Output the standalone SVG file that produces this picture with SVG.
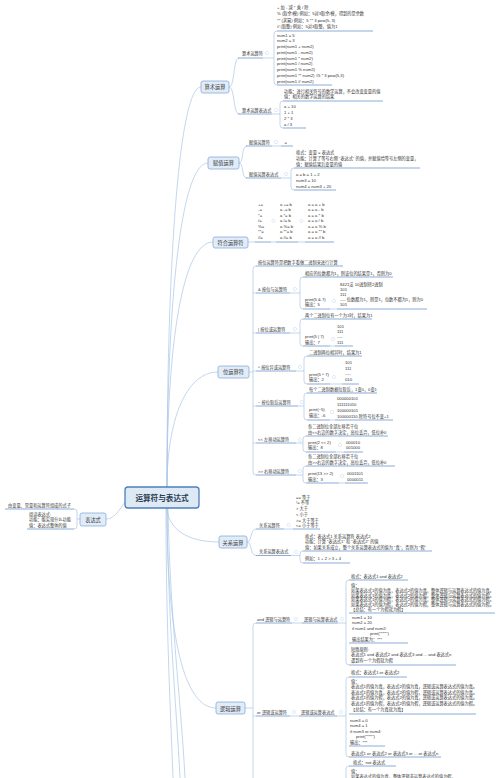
<svg xmlns="http://www.w3.org/2000/svg" width="500" height="778" viewBox="0 0 500 778">
<style>
text{font-family:"Liberation Sans","Noto Sans CJK SC",sans-serif;fill:#333}
.t{font-size:4.2px}
.m{font-size:5.2px;text-anchor:middle}
.r{font-size:7.6px;text-anchor:middle;font-weight:bold;fill:#2b3a4f}
.u{stroke:#6c98cf;stroke-width:0.8;fill:none}
.c{stroke:#a9c6e6;stroke-width:0.7;fill:none}
.d{fill:#fff;stroke:#c5d6ea;stroke-width:0.5}
.mb{fill:#e1ecf8;stroke:#88acd6;stroke-width:0.8}
.rb{fill:#dde9f5;stroke:#4f7fba;stroke-width:1.3}
</style>
<rect width="500" height="778" fill="#fff"/>
<g id="connectors">
<path class="c" d="M167 487C167 250 180 87 201 87"/>
<path class="c" d="M167 487C167 300 181 163 208 163"/>
<path class="c" d="M167 487C167 340 183 242 213 242"/>
<path class="c" d="M167 487C167 420 186 372 218 372"/>
<path class="c" d="M167 508C168 528 186 542 219 542"/>
<path class="c" d="M167 508C167 640 185 708 216 708"/>
<path class="c" d="M166 508C166 620 170 700 173 778"/>
<path class="c" d="M167 508C168 620 176 700 180 778"/>
<path class="c" d="M168 508C170 620 181 700 185 778"/>
<path class="c" d="M125 502C118 512 114 519 106 519"/>
<path class="c" d="M80 519H77M74 509Q77 509 77 512V526Q77 529 74 529"/>
<path class="c" d="M229 87C235 87 233 58 239 58M229 87C235 87 233 114 239 114"/>
<path class="c" d="M263 58H274M277 31Q274 31 274 34V82Q274 85 277 85"/>
<path class="c" d="M272 114H280M283 101Q280 101 280 104V125Q280 128 283 128"/>
<path class="c" d="M239 163C244 163 241 146 247 146M239 163C244 163 241 178 247 178"/>
<path class="c" d="M272 146H281M281 178H291M294 168Q291 168 291 171V187Q291 190 294 190"/>
<path class="c" d="M248 242H255M271 242H276M298 242H305"/>
<path class="c" d="M249 372H253M256 266Q253 266 253 269V472Q253 475 256 475M253 293H256M253 333H256M253 371H256M253 406H256M253 443H256"/>
<path class="c" d="M290 293H300M303 277Q300 277 300 280V306Q300 309 303 309M330 309H337"/>
<path class="c" d="M290 333H300M303 319Q300 319 300 322V343Q300 346 303 346M330 346H335"/>
<path class="c" d="M296 371H304M307 356Q304 356 304 359V381Q304 384 307 384M330 384H342"/>
<path class="c" d="M298 406H304M307 393Q304 393 304 396V417Q304 420 307 420M330 420H335"/>
<path class="c" d="M296 443H303M306 436Q303 436 303 439V449Q303 452 306 452M336 452H344"/>
<path class="c" d="M296 475H303M306 466Q303 466 303 469V480Q303 483 306 483M339 483H345"/>
<path class="c" d="M247 542C252 542 250 529 256 529M247 542C252 542 250 555.5 256 555.5"/>
<path class="c" d="M284 529H293M291 555.5H300M303 551Q300 551 300 554V560Q300 563 303 563"/>
<path class="c" d="M245 708H253M256 623Q253 623 253 626V778M253 716H256"/>
<path class="c" d="M292 623H302M338 623H346M349 580Q346 580 346 583V662Q346 665 349 665"/>
<path class="c" d="M290 716H299M337 716H346M349 677Q346 677 346 680V754Q346 757 349 757"/>
<path class="c" d="M349 766Q346 766 346 769V778"/>
</g>
<g id="root"><rect class="rb" x="125" y="487" width="74" height="21" rx="3"/><text class="r" x="162" y="500.5">运算符与表达式</text></g>
<g id="expr">
<rect class="mb" x="80" y="513" width="26" height="13" rx="2"/><text class="m" x="93" y="521.5">表达式</text>
<path class="u" d="M5 509H74M27 529H74"/>
<text class="t" x="8" y="506.5">由变量、常量和运算符组成的式子</text>
<text class="t" x="29" y="515.5">阅读表达式:</text>
<text class="t" x="29" y="521">功能：能实现什么功能</text>
<text class="t" x="29" y="526.5">值：表达式整体的值</text>
</g>
<g id="arith">
<rect class="mb" x="201" y="81" width="28" height="12" rx="2"/><text class="m" x="215" y="89">算术运算</text>
<path class="u" d="M238 58H263M238 114H272M277 31H373M277 85H332M283 101H383M283 128H306"/>
<circle class="d" cx="267" cy="53" r="1.6"/><circle class="d" cx="276" cy="110" r="1.6"/>
<text class="t" x="242" y="55">算术运算符</text>
<text class="t" x="242" y="111.5">算术运算表达式</text>
<text class="t" x="277" y="8.5">+ 加  - 减  * 乘  / 除</text>
<text class="t" x="277" y="15">% (取余/模)  例如：5对3取余/模，得到的是余数</text>
<text class="t" x="277" y="21.5">** (求幂)  例如：5 ** 3  pow(5, 3)</text>
<text class="t" x="277" y="28">// (取整)  例如：5对3取整，值为1</text>
<text class="t" x="277" y="36.5">num1 = 5</text>
<text class="t" x="277" y="42.25">num2 = 3</text>
<text class="t" x="277" y="48">print(num1 + num2)</text>
<text class="t" x="277" y="53.75">print(num1 - num2)</text>
<text class="t" x="277" y="59.5">print(num1 * num2)</text>
<text class="t" x="277" y="65.25">print(num1 / num2)</text>
<text class="t" x="277" y="71">print(num1 % num2)</text>
<text class="t" x="277" y="76.75">print(num1 ** num2)  #5 * 3 pow(5,3)</text>
<text class="t" x="277" y="82.5">print(num1 // num2)</text>
<text class="t" x="284" y="92.5">功能：进行相关符号的数学运算，不会改变变量的值</text>
<text class="t" x="284" y="98">值：相关的数学运算的结果</text>
<text class="t" x="284" y="107.5">a + 10</text>
<text class="t" x="284" y="113.5">1 + 1</text>
<text class="t" x="284" y="119.5">2 * 3</text>
<text class="t" x="284" y="125.5">a / 3</text>
</g>
<g id="assign">
<rect class="mb" x="208" y="157" width="31" height="12" rx="2"/><text class="m" x="223.5" y="165">赋值运算</text>
<path class="u" d="M246 146H272M281 146H293M246 178H281M294 168H420M294 190H336"/>
<circle class="d" cx="276" cy="142" r="1.6"/><circle class="d" cx="286" cy="174" r="1.6"/>
<text class="t" x="249" y="143.5">赋值运算符</text>
<text class="t" x="284.5" y="144">=</text>
<text class="t" x="249" y="175.5">赋值运算表达式</text>
<text class="t" x="296" y="153.5">格式：变量 = 表达式</text>
<text class="t" x="296" y="159.5">功能：计算了等号右侧 “表达式” 的值，并赋值给等号左侧的变量，</text>
<text class="t" x="296" y="165.5">值：赋值结果后变量的值</text>
<text class="t" x="296" y="175.5">a = b = 1 + 2</text>
<text class="t" x="296" y="181.5">num3 = 10</text>
<text class="t" x="296" y="187.5">num4 = num3 + 20</text>
</g>
<g id="compound">
<rect class="mb" x="213" y="237" width="35" height="11" rx="2"/><text class="m" x="230.5" y="244.5">符合运算符</text>
<path class="u" d="M255 242H271M276 242H298M305 242H334"/>
<circle class="d" cx="273.5" cy="221" r="1.6"/><circle class="d" cx="301.5" cy="221" r="1.6"/>
<text class="t" x="258"><tspan x="258" y="205.8">+=</tspan><tspan x="258" y="211.3">-=</tspan><tspan x="258" y="216.8">*=</tspan><tspan x="258" y="222.3">/=</tspan><tspan x="258" y="227.8">%=</tspan><tspan x="258" y="233.3">**=</tspan><tspan x="258" y="238.8">//=</tspan></text>
<text class="t"><tspan x="280" y="205.8">a += b</tspan><tspan x="280" y="211.3">a -= b</tspan><tspan x="280" y="216.8">a *= b</tspan><tspan x="280" y="222.3">a /= b</tspan><tspan x="280" y="227.8">a %= b</tspan><tspan x="280" y="233.3">a **= b</tspan><tspan x="280" y="238.8">a //= b</tspan></text>
<text class="t"><tspan x="308" y="205.8">a = a + b</tspan><tspan x="308" y="211.3">a = a - b</tspan><tspan x="308" y="216.8">a = a * b</tspan><tspan x="308" y="222.3">a = a / b</tspan><tspan x="308" y="227.8">a = a % b</tspan><tspan x="308" y="233.3">a = a ** b</tspan><tspan x="308" y="238.8">a = a // b</tspan></text>
</g>
<g id="bitwise">
<rect class="mb" x="218" y="366" width="31" height="12" rx="2"/><text class="m" x="233.5" y="374">位运算符</text>
<path class="u" d="M256 266H343M256 293H290M256 333H290M256 371H296M256 406H298M256 443H296M256 475H296"/>
<path class="u" d="M303 277H393M303 309H330M337 309H427M303 319H372M303 346H330M335 346H353M307 356H362M307 384H330M342 384H359M307 393H377M307 420H330M335 420H393M306 436H388M306 452H336M344 452H363M306 466H395M306 483H339M345 483H368"/>
<circle class="d" cx="295" cy="289" r="1.6"/><circle class="d" cx="334" cy="301" r="1.6"/>
<circle class="d" cx="295" cy="329" r="1.6"/><circle class="d" cx="333" cy="339" r="1.6"/>
<circle class="d" cx="300" cy="367" r="1.6"/><circle class="d" cx="334" cy="377" r="1.6"/>
<circle class="d" cx="302" cy="402" r="1.6"/><circle class="d" cx="332" cy="412" r="1.6"/>
<circle class="d" cx="300" cy="440" r="1.6"/><circle class="d" cx="340" cy="445" r="1.6"/>
<circle class="d" cx="300" cy="471" r="1.6"/><circle class="d" cx="342" cy="476" r="1.6"/>
<text class="t" x="258" y="263.5">按位运算符是把数字看做二进制来进行计算</text>
<text class="t" x="258" y="290.5">&amp; 按位与运算符</text>
<text class="t" x="305" y="274.5">相应的位数都为1，则该位的结果是1，否则为0</text>
<text class="t" x="305" y="300.5">print(5 &amp; 7)</text>
<text class="t" x="305" y="306">输出：5</text>
<text class="t" x="340" y="285.5">8421法 10进制转2进制</text>
<text class="t" x="340" y="290.5">101</text>
<text class="t" x="340" y="295.5">111</text>
<text class="t" x="340" y="300.5">----   位数都为1，则是1，位数不都为1，则为0</text>
<text class="t" x="340" y="306">101</text>
<text class="t" x="258" y="330.5">| 按位或运算符</text>
<text class="t" x="305" y="316.5">两个二进制位有一个为1时，结果为1</text>
<text class="t" x="305" y="337.5">print(5 | 7)</text>
<text class="t" x="305" y="343.5">输出：7</text>
<text class="t" x="337" y="327.5">101</text>
<text class="t" x="337" y="332.5">111</text>
<text class="t" x="337" y="337.5">----</text>
<text class="t" x="337" y="343.5">111</text>
<text class="t" x="258" y="368.5">^ 按位异或运算符</text>
<text class="t" x="309" y="353.5">二进制两位相异时，结果为1</text>
<text class="t" x="309" y="375.5">print(5 ^ 7)</text>
<text class="t" x="309" y="381">输出：2</text>
<text class="t" x="345" y="363.5">101</text>
<text class="t" x="345" y="369.5">111</text>
<text class="t" x="345" y="375">----</text>
<text class="t" x="345" y="381">010</text>
<text class="t" x="258" y="403.5">~ 按位取反运算符</text>
<text class="t" x="309" y="390.5">每个二进制数据位取反，1变0，0变1</text>
<text class="t" x="309" y="410.5">print(~5)</text>
<text class="t" x="309" y="416.5">输出：-6</text>
<text class="t" x="337" y="399.5">000000101</text>
<text class="t" x="337" y="405.5">111111010</text>
<text class="t" x="337" y="411.5">100000101</text>
<text class="t" x="337" y="417.5">100000110   除符号位不变+1</text>
<text class="t" x="258" y="440.5">&lt;&lt; 左移动运算符</text>
<text class="t" x="308" y="427.5">各二进制位全部左移若干位</text>
<text class="t" x="308" y="433.5">由&lt;&lt;右边的数字决定，高位丢弃，低位补0</text>
<text class="t" x="308" y="443.5">print(2 &lt;&lt; 2)</text>
<text class="t" x="308" y="449">输出：8</text>
<text class="t" x="346" y="443.5">000010</text>
<text class="t" x="346" y="449">001000</text>
<text class="t" x="258" y="472.5">&gt;&gt; 右移动运算符</text>
<text class="t" x="308" y="457.5">各二进制位全部右移若干位</text>
<text class="t" x="308" y="463.5">由&gt;&gt;右边的数字决定，高位丢弃，低位补0</text>
<text class="t" x="308" y="474.5">print(13 &gt;&gt; 2)</text>
<text class="t" x="308" y="480.5">输出：3</text>
<text class="t" x="347" y="474.5">0001101</text>
<text class="t" x="347" y="480.5">0000011</text>
</g>
<g id="relation">
<rect class="mb" x="219" y="536" width="28" height="12" rx="2"/><text class="m" x="233" y="544.5">关系运算</text>
<path class="u" d="M256 529H284M293 529H320M256 555.5H291M303 551H432M303 563H350"/>
<circle class="d" cx="288.5" cy="525" r="1.6"/><circle class="d" cx="296" cy="552" r="1.6"/>
<text class="t" x="259" y="526.5">关系运算符</text>
<text class="t" x="259" y="553">关系运算表达式</text>
<text class="t" x="296" y="498.5">== 等于</text>
<text class="t" x="296" y="504.3">!= 不等</text>
<text class="t" x="296" y="510.1">&gt; 大于</text>
<text class="t" x="296" y="515.9">&lt; 小于</text>
<text class="t" x="296" y="521.7">&gt;= 大于等于</text>
<text class="t" x="296" y="527.3">&lt;= 小于等于</text>
<text class="t" x="305" y="537.5">格式：表达式1 关系运算符 表达式2</text>
<text class="t" x="305" y="543">功能：计算 “表达式1” 和 “表达式2” 的值</text>
<text class="t" x="305" y="548.5">值：如果关系成立，整个关系运算表达式的值为 “真”，否则为 “假”</text>
<text class="t" x="305" y="560">例如：1 + 2 &gt; 3 + 4</text>
</g>
<g id="logic">
<rect class="mb" x="216" y="702" width="29" height="12" rx="2"/><text class="m" x="230.5" y="710.5">逻辑运算</text>
<path class="u" d="M256 623H292M302 623H338M349 580H408M349 613H495M349 643H408M349 665H456"/>
<path class="u" d="M256 716H290M299 716H337M349 677H407M349 714H476M349 746H385M349 757H441M349 766H396"/>
<circle class="d" cx="296" cy="619" r="1.6"/><circle class="d" cx="342" cy="619" r="1.6"/>
<circle class="d" cx="294" cy="712" r="1.6"/><circle class="d" cx="341" cy="712" r="1.6"/>
<text class="t" x="257" y="620.5">and 逻辑与运算符</text>
<text class="t" x="304" y="620.5">逻辑与运算表达式</text>
<text class="t" x="351" y="577.5">格式：表达式1 and 表达式2</text>
<text class="t" x="351" y="587">值：</text>
<text class="t" x="351" y="591.8">如果表达式1的值为真，表达式2的值为真，整体逻辑与运算表达式的值为真。</text>
<text class="t" x="351" y="596.6">如果表达式1的值为真，表达式2的值为假，整体逻辑与运算表达式的值为假。</text>
<text class="t" x="351" y="601.4">如果表达式1的值为假，表达式2的值为真，整体逻辑与运算表达式的值为假。</text>
<text class="t" x="351" y="606.2">如果表达式1的值为假，表达式2的值为假，整体逻辑与运算表达式的值为假。</text>
<text class="t" x="351" y="611">【总结：有一个为假就为假】</text>
<text class="t" x="352" y="618.5">num1 = 10</text>
<text class="t" x="352" y="624">num2 = 20</text>
<text class="t" x="352" y="629.5">if num1 and num2:</text>
<text class="t" x="370" y="635">print("***")</text>
<text class="t" x="352" y="640.5">输出结果为：***</text>
<text class="t" x="351" y="650.5">短路原则:</text>
<text class="t" x="351" y="656.3">表达式1 and 表达式2 and 表达式3 and ... and 表达式n</text>
<text class="t" x="351" y="662">遇到有一个为假就为假</text>
<text class="t" x="257" y="713.5">or 逻辑或运算符</text>
<text class="t" x="301" y="713.5">逻辑或运算表达式</text>
<text class="t" x="351" y="674">格式：表达式1 or 表达式2</text>
<text class="t" x="351" y="682.5">值：</text>
<text class="t" x="351" y="688.2">表达式1的值为真，表达式2的值为真，逻辑或运算表达式的值为真。</text>
<text class="t" x="351" y="693.8">表达式1的值为真，表达式2的值为假，逻辑或运算表达式的值为真。</text>
<text class="t" x="351" y="699.4">表达式1的值为假，表达式2的值为真，逻辑或运算表达式的值为真。</text>
<text class="t" x="351" y="705">表达式1的值为假，表达式2的值为假，逻辑或运算表达式的值为假。</text>
<text class="t" x="351" y="710.6">【总结：有一个为真就为真】</text>
<text class="t" x="350" y="721.5">num3 = 0</text>
<text class="t" x="350" y="727">num4 = 1</text>
<text class="t" x="350" y="732.5">if num3 or num4:</text>
<text class="t" x="356" y="738">print("***")</text>
<text class="t" x="350" y="743.5">输出：***</text>
<text class="t" x="351" y="754.5">表达式1 or 表达式2 or 表达式3 or ... or 表达式n</text>
<text class="t" x="353" y="763.5">格式：not 表达式</text>
<text class="t" x="351" y="772.5">值：</text>
<text class="t" x="351" y="778.3">如果表达式的值为真，整体逻辑非运算表达式的值为假，</text>
</g>
</svg>
